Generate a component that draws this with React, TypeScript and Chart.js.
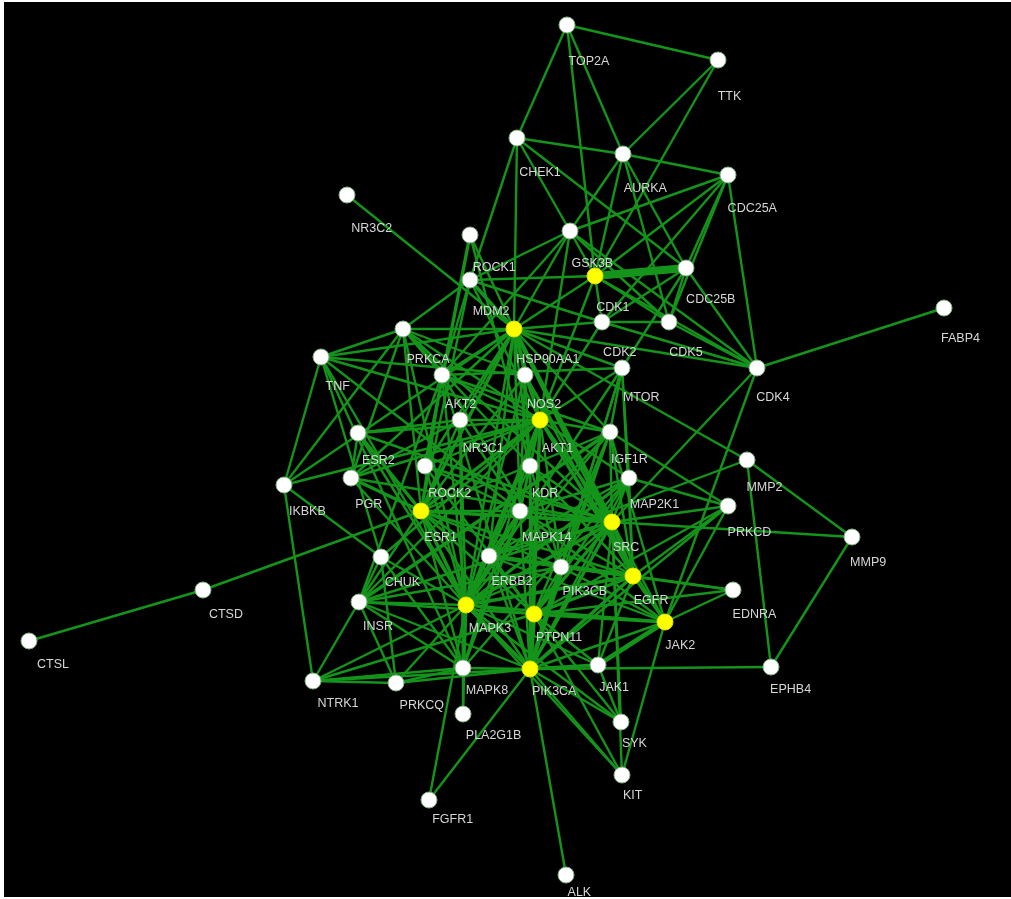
import { useEffect, useRef } from "react";
import { Chart, registerables } from "chart.js";

Chart.register(...registerables);

// Gene nodes of the interaction network and their layout coordinates
const geneNames = [
  "TOP2A", "TTK", "CHEK1", "AURKA", "CDC25A", "NR3C2", "GSK3B", "ROCK1", "CDK1", "CDC25B",
  "MDM2", "CDK2", "CDK5", "HSP90AA1", "PRKCA", "TNF", "AKT2", "NOS2", "MTOR", "CDK4",
  "FABP4", "AKT1", "NR3C1", "ESR2", "IGF1R", "MMP2", "KDR", "ROCK2", "PGR", "IKBKB",
  "MAP2K1", "PRKCD", "ESR1", "MAPK14", "SRC", "MMP9", "CHUK", "ERBB2", "PIK3CB", "EGFR",
  "EDNRA", "CTSD", "INSR", "MAPK3", "PTPN11", "JAK2", "CTSL", "NTRK1", "PRKCQ", "MAPK8",
  "PIK3CA", "JAK1", "EPHB4", "PLA2G1B", "SYK", "KIT", "FGFR1", "ALK",
];

const nodeX = [
  567, 718, 517, 623, 728, 347, 570, 470, 595, 686,
  470, 602, 669, 514, 403, 321, 442, 525, 622, 757,
  944, 540, 460, 358, 610, 747, 530, 425, 351, 284,
  629, 728, 421, 520, 612, 852, 381, 489, 561, 633,
  733, 203, 359, 466, 534, 665, 29, 313, 396, 463,
  530, 598, 771, 463, 621, 622, 429, 566,
];

const nodeY = [
  25, 60, 138, 154, 175, 195, 231, 235, 276, 268,
  280, 322, 322, 329, 329, 357, 375, 375, 368, 368,
  308, 420, 420, 433, 432, 460, 466, 466, 478, 485,
  478, 506, 511, 511, 522, 537, 557, 556, 567, 576,
  590, 590, 602, 605, 614, 622, 641, 681, 683, 668,
  669, 665, 667, 714, 722, 775, 800, 875,
];

// Hub genes, drawn in yellow
const hubGenes = ["CDK1", "HSP90AA1", "AKT1", "ESR1", "SRC", "EGFR", "MAPK3", "PTPN11", "JAK2", "PIK3CA"];

// Interactions: [gene A, gene B, confidence level 1..4]
const interactions: [string, string, number][] = [
  ["TOP2A", "TTK", 1], ["TOP2A", "CHEK1", 1], ["TOP2A", "AURKA", 1], ["TOP2A", "CDK1", 1],
  ["TTK", "AURKA", 1], ["TTK", "CDK1", 1],
  ["CHEK1", "AURKA", 1], ["CHEK1", "GSK3B", 1], ["CHEK1", "MDM2", 1], ["CHEK1", "HSP90AA1", 1], ["CHEK1", "CDC25B", 1],
  ["AURKA", "CDC25A", 1], ["AURKA", "GSK3B", 1], ["AURKA", "CDK1", 1], ["AURKA", "CDC25B", 1], ["AURKA", "CDK5", 1],
  ["CDC25A", "CDC25B", 1], ["CDC25A", "CDK1", 1], ["CDC25A", "CDK2", 1], ["CDC25A", "CDK5", 1], ["CDC25A", "CDK4", 1], ["CDC25A", "GSK3B", 1],
  ["GSK3B", "CDK1", 1], ["GSK3B", "HSP90AA1", 1], ["GSK3B", "MDM2", 1], ["GSK3B", "CDK4", 1], ["GSK3B", "AKT1", 1], ["GSK3B", "AKT2", 1], ["GSK3B", "CDK5", 1],
  ["CDK1", "CDC25B", 4], ["CDK1", "MDM2", 1], ["CDK1", "CDK2", 1], ["CDK1", "CDK4", 1], ["CDK1", "CDK5", 1], ["CDK1", "HSP90AA1", 1], ["CDK1", "AKT1", 1],
  ["CDC25B", "CDK2", 1], ["CDC25B", "CDK5", 1], ["CDC25B", "CDK4", 1], ["CDC25B", "MTOR", 1],
  ["CDK2", "CDK5", 1], ["CDK2", "CDK4", 1], ["CDK2", "MDM2", 1], ["CDK2", "AKT1", 1], ["CDK2", "HSP90AA1", 1],
  ["CDK5", "CDK4", 1],
  ["CDK4", "FABP4", 1], ["CDK4", "SRC", 1], ["CDK4", "JAK2", 1], ["CDK4", "HSP90AA1", 1],
  ["ROCK1", "ROCK2", 2], ["ROCK1", "HSP90AA1", 1], ["ROCK1", "KDR", 1],
  ["NR3C2", "HSP90AA1", 1],
  ["MDM2", "HSP90AA1", 2], ["MDM2", "PRKCA", 1], ["MDM2", "AKT1", 1], ["MDM2", "AKT2", 1], ["MDM2", "ESR1", 1],
  ["HSP90AA1", "PRKCA", 1], ["HSP90AA1", "IKBKB", 1], ["HSP90AA1", "AKT1", 2], ["HSP90AA1", "AKT2", 1],
  ["HSP90AA1", "NOS2", 1], ["HSP90AA1", "SRC", 3], ["HSP90AA1", "EGFR", 1], ["HSP90AA1", "ERBB2", 1],
  ["HSP90AA1", "ESR1", 2], ["HSP90AA1", "NR3C1", 1], ["HSP90AA1", "MMP2", 1], ["HSP90AA1", "KDR", 1],
  ["HSP90AA1", "MAPK3", 1], ["HSP90AA1", "PGR", 1], ["HSP90AA1", "MTOR", 1], ["HSP90AA1", "TNF", 1],
  ["HSP90AA1", "IGF1R", 1], ["HSP90AA1", "ROCK2", 1], ["HSP90AA1", "MAPK14", 1],
  ["PRKCA", "IKBKB", 1], ["PRKCA", "TNF", 1], ["PRKCA", "AKT1", 1], ["PRKCA", "AKT2", 1], ["PRKCA", "ESR1", 1],
  ["PRKCA", "MAPK3", 1], ["PRKCA", "SRC", 1], ["PRKCA", "EGFR", 1], ["PRKCA", "PGR", 1], ["PRKCA", "NOS2", 1],
  ["TNF", "IKBKB", 1], ["TNF", "CHUK", 1], ["TNF", "AKT1", 1], ["TNF", "MAPK14", 1], ["TNF", "MAPK3", 1], ["TNF", "MAPK8", 1], ["TNF", "NOS2", 1],
  ["IKBKB", "CHUK", 1], ["IKBKB", "AKT1", 1], ["IKBKB", "NTRK1", 1],
  ["AKT2", "AKT1", 1], ["AKT2", "MTOR", 1], ["AKT2", "PIK3CA", 1], ["AKT2", "PIK3CB", 1], ["AKT2", "ESR1", 1], ["AKT2", "INSR", 1], ["AKT2", "IGF1R", 1], ["AKT2", "MAPK3", 1],
  ["NOS2", "AKT1", 1], ["NOS2", "SRC", 1], ["NOS2", "ESR1", 1], ["NOS2", "KDR", 1], ["NOS2", "EGFR", 1], ["NOS2", "MAPK14", 1], ["NOS2", "MAPK3", 1],
  ["MTOR", "AKT1", 1], ["MTOR", "PIK3CA", 1], ["MTOR", "PIK3CB", 1], ["MTOR", "MAPK3", 1], ["MTOR", "IGF1R", 1], ["MTOR", "EGFR", 1], ["MTOR", "MAP2K1", 1],
  ["AKT1", "NR3C1", 1], ["AKT1", "ESR1", 2], ["AKT1", "ESR2", 1], ["AKT1", "IGF1R", 1], ["AKT1", "KDR", 1], ["AKT1", "MAPK14", 1],
  ["AKT1", "MAPK3", 2], ["AKT1", "PIK3CA", 2], ["AKT1", "PTPN11", 1], ["AKT1", "SRC", 2], ["AKT1", "EGFR", 1], ["AKT1", "ERBB2", 1],
  ["AKT1", "PIK3CB", 1], ["AKT1", "MAP2K1", 1], ["AKT1", "PGR", 1], ["AKT1", "INSR", 1], ["AKT1", "CHUK", 1], ["AKT1", "JAK2", 1],
  ["AKT1", "ROCK2", 1], ["AKT1", "MAPK8", 1],
  ["NR3C1", "ESR1", 1], ["NR3C1", "PGR", 1], ["NR3C1", "MAPK3", 1], ["NR3C1", "MAPK14", 1], ["NR3C1", "ESR2", 1], ["NR3C1", "MAPK8", 1],
  ["ESR2", "ESR1", 2], ["ESR2", "PGR", 1], ["ESR2", "MAPK3", 1], ["ESR2", "SRC", 1],
  ["IGF1R", "SRC", 1], ["IGF1R", "PIK3CA", 1], ["IGF1R", "PTPN11", 1], ["IGF1R", "MAPK3", 1], ["IGF1R", "INSR", 2], ["IGF1R", "EGFR", 1],
  ["IGF1R", "ERBB2", 1], ["IGF1R", "JAK2", 1], ["IGF1R", "PIK3CB", 1], ["IGF1R", "PRKCD", 1], ["IGF1R", "ESR1", 1],
  ["KDR", "SRC", 1], ["KDR", "PIK3CA", 1], ["KDR", "PTPN11", 1], ["KDR", "MAPK3", 1], ["KDR", "MAPK14", 1], ["KDR", "EGFR", 1], ["KDR", "PIK3CB", 1],
  ["ROCK2", "MAPK3", 1], ["ROCK2", "SRC", 1], ["ROCK2", "MAPK14", 1], ["ROCK2", "PTPN11", 1],
  ["PGR", "ESR1", 2], ["PGR", "MAPK3", 1], ["PGR", "SRC", 1],
  ["MAP2K1", "MAPK3", 2], ["MAP2K1", "SRC", 1], ["MAP2K1", "EGFR", 1], ["MAP2K1", "PIK3CA", 1], ["MAP2K1", "MAPK14", 1],
  ["MAP2K1", "MAPK8", 1], ["MAP2K1", "PRKCD", 1], ["MAP2K1", "ERBB2", 1], ["MAP2K1", "PTPN11", 1],
  ["PRKCD", "SRC", 1], ["PRKCD", "EGFR", 1], ["PRKCD", "JAK2", 1], ["PRKCD", "PTPN11", 1], ["PRKCD", "PIK3CA", 1],
  ["ESR1", "SRC", 2], ["ESR1", "EGFR", 1], ["ESR1", "MAPK3", 2], ["ESR1", "PIK3CA", 1], ["ESR1", "ERBB2", 1], ["ESR1", "CTSD", 1],
  ["ESR1", "MAPK14", 1], ["ESR1", "MAPK8", 1], ["ESR1", "PTPN11", 1], ["ESR1", "INSR", 1], ["ESR1", "PIK3CB", 1],
  ["MAPK14", "MAPK3", 2], ["MAPK14", "MAPK8", 2], ["MAPK14", "SRC", 1], ["MAPK14", "EGFR", 1], ["MAPK14", "PIK3CA", 1], ["MAPK14", "ERBB2", 1], ["MAPK14", "JAK2", 1],
  ["SRC", "EGFR", 3], ["SRC", "PIK3CA", 2], ["SRC", "PTPN11", 2], ["SRC", "MAPK3", 2], ["SRC", "JAK2", 1], ["SRC", "JAK1", 1],
  ["SRC", "ERBB2", 1], ["SRC", "PIK3CB", 1], ["SRC", "SYK", 1], ["SRC", "KIT", 1], ["SRC", "INSR", 1], ["SRC", "MMP9", 1],
  ["EGFR", "PIK3CA", 2], ["EGFR", "PTPN11", 2], ["EGFR", "MAPK3", 2], ["EGFR", "JAK2", 1], ["EGFR", "JAK1", 1], ["EGFR", "ERBB2", 3],
  ["EGFR", "PIK3CB", 1], ["EGFR", "EDNRA", 1],
  ["CHUK", "MAPK3", 1], ["CHUK", "INSR", 1], ["CHUK", "PRKCQ", 1], ["CHUK", "MAPK8", 1],
  ["ERBB2", "PIK3CA", 1], ["ERBB2", "PTPN11", 1], ["ERBB2", "MAPK3", 1], ["ERBB2", "PIK3CB", 1], ["ERBB2", "JAK2", 1], ["ERBB2", "MMP2", 1],
  ["PIK3CB", "PIK3CA", 3], ["PIK3CB", "MAPK3", 1], ["PIK3CB", "PTPN11", 1], ["PIK3CB", "JAK2", 1], ["PIK3CB", "INSR", 1], ["PIK3CB", "EDNRA", 1],
  ["EDNRA", "JAK2", 1], ["EDNRA", "PTPN11", 1],
  ["INSR", "MAPK3", 1], ["INSR", "PTPN11", 1], ["INSR", "PIK3CA", 1], ["INSR", "NTRK1", 1], ["INSR", "PRKCQ", 1], ["INSR", "MAPK8", 1],
  ["MAPK3", "PTPN11", 1], ["MAPK3", "PIK3CA", 2], ["MAPK3", "MAPK8", 2], ["MAPK3", "JAK2", 1], ["MAPK3", "JAK1", 1], ["MAPK3", "NTRK1", 1],
  ["MAPK3", "PRKCQ", 1], ["MAPK3", "FGFR1", 1], ["MAPK3", "PLA2G1B", 1], ["MAPK3", "KIT", 1], ["MAPK3", "SYK", 1],
  ["PTPN11", "PIK3CA", 3], ["PTPN11", "JAK2", 2], ["PTPN11", "JAK1", 1], ["PTPN11", "KIT", 1], ["PTPN11", "SYK", 1], ["PTPN11", "NTRK1", 1],
  ["JAK2", "JAK1", 3], ["JAK2", "PIK3CA", 1], ["JAK2", "KIT", 1],
  ["CTSD", "CTSL", 1],
  ["NTRK1", "MAPK8", 1], ["NTRK1", "PIK3CA", 1], ["NTRK1", "PRKCQ", 1],
  ["PRKCQ", "MAPK8", 1], ["PRKCQ", "PIK3CA", 1],
  ["MAPK8", "PIK3CA", 1], ["MAPK8", "PLA2G1B", 1],
  ["PIK3CA", "JAK1", 2], ["PIK3CA", "ALK", 1], ["PIK3CA", "FGFR1", 1], ["PIK3CA", "KIT", 1], ["PIK3CA", "SYK", 1], ["PIK3CA", "EPHB4", 1],
  ["JAK1", "SYK", 1],
  ["EPHB4", "MMP2", 1], ["EPHB4", "MMP9", 1], ["MMP2", "MMP9", 1],
];

const EDGE_WIDTH: Record<number, number> = { 1: 2.4, 2: 3.4, 3: 4.6, 4: 8 };
const EDGE_COLOR = "#14941a";
const LABEL_COLOR = "#d6d6d6";

const indexOf: Record<string, number> = {};
geneNames.forEach((g, i) => (indexOf[g] = i));

const backdrop = {
  id: "backdrop",
  beforeDraw(chart: Chart) {
    const { ctx, width, height } = chart;
    ctx.save();
    ctx.fillStyle = "#ffffff";
    ctx.fillRect(0, 0, width, height);
    ctx.fillStyle = "#000000";
    ctx.fillRect(4, 2, width - 4, height - 4);
    ctx.restore();
  },
};

const geneLabels = {
  id: "geneLabels",
  afterDatasetsDraw(chart: Chart) {
    const { ctx } = chart;
    const xs = chart.scales.x;
    const ys = chart.scales.y;
    ctx.save();
    ctx.fillStyle = LABEL_COLOR;
    ctx.font = '12.5px "Liberation Sans", Arial, sans-serif';
    ctx.textAlign = "left";
    ctx.textBaseline = "middle";
    geneNames.forEach((name, i) => {
      const px = xs.getPixelForValue(nodeX[i]);
      const py = ys.getPixelForValue(nodeY[i]);
      // labels sit below-right of each node
      const dx = 8 - 0.012 * (px - 29);
      const dy = 37 - 0.0224 * (py - 26);
      ctx.fillText(name, px + dx, py + dy);
    });
    ctx.restore();
  },
};

export default function App() {
  const canvasRef = useRef<HTMLCanvasElement | null>(null);

  useEffect(() => {
    document.body.style.margin = "0";
    const canvas = canvasRef.current;
    if (!canvas) return;

    const seen = new Set<string>();
    const edgeSets: any[] = [];
    interactions.forEach(([a, b, w]) => {
      const ia = indexOf[a];
      const ib = indexOf[b];
      if (ia === undefined || ib === undefined) return;
      const key = ia < ib ? `${ia}-${ib}` : `${ib}-${ia}`;
      if (seen.has(key)) return;
      seen.add(key);
      edgeSets.push({
        data: [
          { x: nodeX[ia], y: nodeY[ia] },
          { x: nodeX[ib], y: nodeY[ib] },
        ],
        showLine: true,
        borderColor: EDGE_COLOR,
        borderWidth: EDGE_WIDTH[w] ?? 2.4,
        pointRadius: 0,
        pointHoverRadius: 0,
        order: 2 + (4 - w),
        clip: false,
      });
    });

    const plainNodes = geneNames
      .map((g, i) => ({ g, x: nodeX[i], y: nodeY[i] }))
      .filter((n) => !hubGenes.includes(n.g))
      .map((n) => ({ x: n.x, y: n.y }));
    const hubNodes = geneNames
      .map((g, i) => ({ g, x: nodeX[i], y: nodeY[i] }))
      .filter((n) => hubGenes.includes(n.g))
      .map((n) => ({ x: n.x, y: n.y }));

    const chart = new Chart(canvas, {
      type: "scatter",
      data: {
        datasets: [
          ...edgeSets,
          {
            data: plainNodes,
            pointRadius: 8,
            pointBackgroundColor: "#ffffff",
            pointBorderColor: "#7fb27f",
            pointBorderWidth: 1,
            showLine: false,
            order: 0,
            clip: false,
          },
          {
            data: hubNodes,
            pointRadius: 8,
            pointBackgroundColor: "#ffff00",
            pointBorderColor: "#e0e000",
            pointBorderWidth: 1,
            showLine: false,
            order: 0,
            clip: false,
          },
        ],
      },
      options: {
        responsive: false,
        animation: false,
        events: [],
        layout: { padding: 0, autoPadding: false },
        plugins: {
          legend: { display: false },
          tooltip: { enabled: false },
        },
        scales: {
          x: { type: "linear", min: 0, max: 1011, display: false },
          y: { type: "linear", min: 0, max: 899, reverse: true, display: false },
        },
      },
      plugins: [backdrop, geneLabels],
    });

    return () => chart.destroy();
  }, []);

  return (
    <div style={{ width: 1011, height: 899 }}>
      <canvas ref={canvasRef} width={1011} height={899} style={{ display: "block" }} />
    </div>
  );
}
